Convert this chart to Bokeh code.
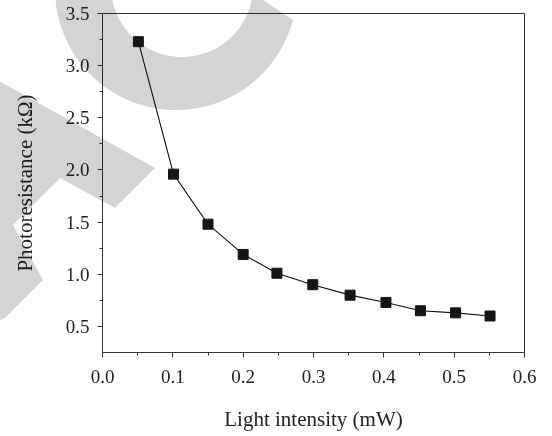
import numpy as np
from bokeh.plotting import figure
from bokeh.layouts import column
from bokeh.models import ColumnDataSource, FixedTicker, PrintfTickFormatter, Range1d, Div
from bokeh.embed import file_html
from bokeh.resources import INLINE

# Data
light_intensity = [0.051, 0.101, 0.150, 0.200, 0.248, 0.299, 0.352, 0.403, 0.452, 0.502, 0.551]
photoresistance = [3.23, 1.96, 1.48, 1.19, 1.01, 0.90, 0.80, 0.73, 0.65, 0.63, 0.60]

x_ticks = [0.0, 0.1, 0.2, 0.3, 0.4, 0.5, 0.6]
x_minor = [0.05, 0.15, 0.25, 0.35, 0.45, 0.55]
y_ticks = [0.5, 1.0, 1.5, 2.0, 2.5, 3.0, 3.5]
y_minor = [0.75, 1.25, 1.75, 2.25, 2.75, 3.25]

x_label = "Light intensity (mW)"
y_label = "Photoresistance (kΩ)"

FONT = "Liberation Serif"
W, H = 552, 436

p = figure(width=W, height=H, output_backend="svg", toolbar_location=None,
           x_range=Range1d(0.0, 0.6), y_range=Range1d(0.25, 3.5),
           min_border_left=102, min_border_right=28, min_border_top=13, min_border_bottom=84)

p.background_fill_color = "white"
p.border_fill_color = "white"
p.outline_line_color = "#333333"
p.outline_line_width = 1
p.xgrid.visible = False
p.ygrid.visible = False

src = ColumnDataSource(dict(x=light_intensity, y=photoresistance))
p.line("x", "y", source=src, line_color="#111111", line_width=1.1)
p.scatter("x", "y", source=src, marker="square", size=10, fill_color="#151515",
          line_color="#151515")

p.xaxis.ticker = FixedTicker(ticks=x_ticks, minor_ticks=x_minor)
p.yaxis.ticker = FixedTicker(ticks=y_ticks, minor_ticks=y_minor)
p.xaxis.formatter = PrintfTickFormatter(format="%.1f")
p.yaxis.formatter = PrintfTickFormatter(format="%.1f")

for ax in (p.xaxis[0], p.yaxis[0]):
    ax.axis_line_color = "#333333"
    ax.axis_line_width = 1
    ax.major_tick_line_color = "#333333"
    ax.minor_tick_line_color = "#333333"
    ax.major_tick_out = 5
    ax.major_tick_in = 0
    ax.minor_tick_out = 3
    ax.minor_tick_in = 0
    ax.major_label_text_font = FONT
    ax.major_label_text_font_size = "19px"
    ax.major_label_text_color = "#222222"
    ax.axis_label_text_font = FONT
    ax.axis_label_text_font_size = "21px"
    ax.axis_label_text_font_style = "normal"
    ax.axis_label_text_color = "#222222"

p.xaxis.axis_label = x_label
p.yaxis.axis_label = y_label
p.xaxis.major_label_standoff = 12
p.yaxis.major_label_standoff = 8
p.xaxis.axis_label_standoff = 21
p.yaxis.axis_label_standoff = 26

# Light gray watermark shapes (decoration) drawn as an overlay that multiplies,
# so dark marks and texts stay dark beneath it. Page pixel coordinates.
th_o = np.linspace(np.pi + 0.05, np.deg2rad(14.8), 90)
ox = 176 + 121 * np.cos(th_o)
oy = -11 + 121 * np.sin(th_o)
th_i = np.linspace(np.deg2rad(-8), np.pi + 0.08, 90)
ix = 182 + 71 * np.cos(th_i)
iy = -14 + 71 * np.sin(th_i)
ring = list(zip(ox, oy)) + [(233, -20)] + list(zip(ix, iy))
band = [(-10, 76), (155, 168), (115, 208), (60, 178), (13, 225), (43, 280), (5, 318), (-10, 325)]

def pts(seq):
    return " ".join(f"{x:.1f},{y:.1f}" for x, y in seq)

svg = (f'<svg xmlns="http://www.w3.org/2000/svg" width="{W}" height="{H}" '
       f'viewBox="0 0 {W} {H}" style="display:block">'
       f'<polygon points="{pts(ring)}" fill="#d4d4d4"/>'
       f'<polygon points="{pts(band)}" fill="#d4d4d4"/></svg>')

mark = Div(text=svg, width=W, height=H,
           styles={"position": "absolute", "left": "0px", "top": "0px",
                   "pointer-events": "none", "mix-blend-mode": "multiply",
                   "z-index": "10", "margin": "0px", "padding": "0px"})

layout = column(p, mark, spacing=0)

open("out.html", "w").write(file_html(layout, INLINE))
